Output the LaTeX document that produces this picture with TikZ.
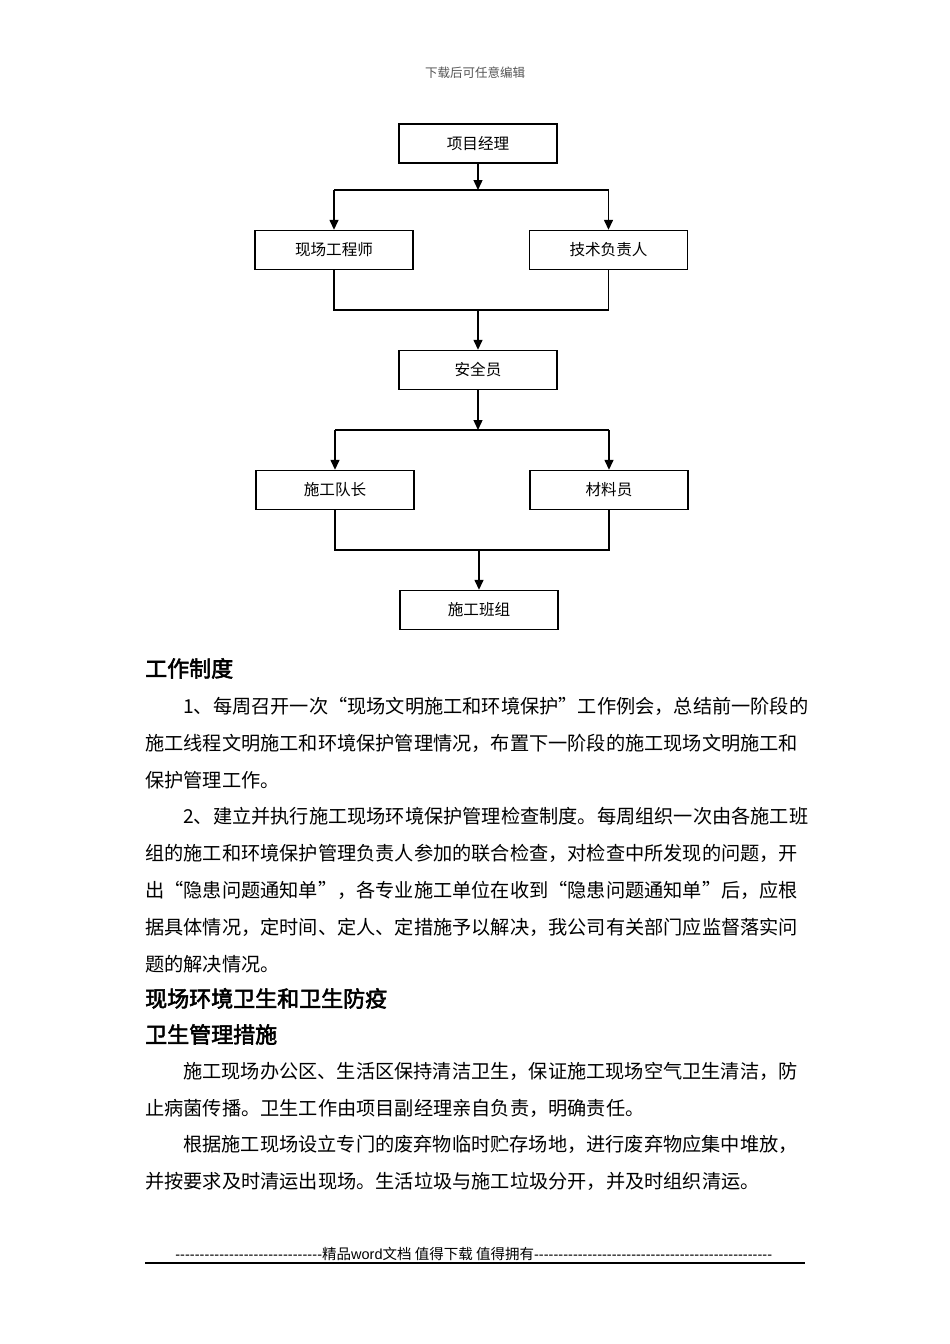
\documentclass[tikz,border=0pt]{standalone}
\usepackage{fontspec}
\setmainfont{Liberation Serif}
\newfontfamily\cjk{Noto Sans CJK SC}
\newfontfamily\cjkb{Noto Sans CJK SC}[FakeBold=2.5]
\newfontfamily\footfont{Liberation Sans}
\usetikzlibrary{arrows.meta}
\definecolor{hdrgray}{HTML}{555555}
\begin{document}
\begin{tikzpicture}[x=1pt,y=-1pt,
  box/.style={draw, line width=1.4pt, minimum width=158pt, minimum height=39pt, inner sep=0pt,
    font=\cjk\fontsize{15.6}{18}\selectfont},
  conn/.style={line width=1.4pt},
  arr/.style={conn, -{Triangle[length=10pt,width=9pt]}},
  bodyline/.style={anchor=west, inner sep=0pt, text height=0.88em, text depth=0.12em,
    font=\cjk\fontsize{19.2}{23}\selectfont},
  headline/.style={anchor=west, inner sep=0pt, text height=0.88em, text depth=0.12em,
    font=\cjkb\fontsize{22}{26}\selectfont}]
\useasboundingbox[fill=white] (0,0) rectangle (950,1344);

% header
\node[font=\cjk\fontsize{12.5}{15}\selectfont, text=hdrgray] (hdr) at (475,73) {下载后可任意编辑};

% org chart
\node[box] (pm)   at (478,143.5) {项目经理};
\node[box] (eng)  at (334,250)   {现场工程师};
\node[box] (tech) at (608.5,250) {技术负责人};
\node[box] (safe) at (478,370)   {安全员};
\node[box] (cap)  at (335,490)   {施工队长};
\node[box] (mat)  at (609,490)   {材料员};
\node[box] (team) at (479,610)   {施工班组};

\coordinate (j1) at (478,190);
\coordinate (j2) at (478,310);
\coordinate (j3) at (478,430);
\coordinate (j4) at (479,550);

\draw[arr] (pm.south) -- (j1);
\draw[conn] (j1 -| eng) -- (j1 -| tech);
\draw[arr] (j1 -| eng) -- (eng.north);
\draw[arr] (j1 -| tech) -- (tech.north);
\draw[conn] (eng.south) -- (eng |- j2) -- (tech |- j2) -- (tech.south);
\draw[arr] (j2) -- (safe.north);
\draw[arr] (safe.south) -- (j3);
\draw[conn] (j3 -| cap) -- (j3 -| mat);
\draw[arr] (j3 -| cap) -- (cap.north);
\draw[arr] (j3 -| mat) -- (mat.north);
\draw[conn] (cap.south) -- (cap |- j4) -- (mat |- j4) -- (mat.south);
\draw[arr] (j4) -- (team.north);

% text
\node[headline] (h1) at (145,673) {工作制度};
\node[bodyline] (p1a) at (183,710) {1、每周召开一次“现场文明施工和环境保护”工作例会，总结前一阶段的};
\node[bodyline] (p1b) at (145,747) {施工线程文明施工和环境保护管理情况，布置下一阶段的施工现场文明施工和};
\node[bodyline] (p1c) at (145,784) {保护管理工作。};
\node[bodyline] (p2a) at (183,820) {2、建立并执行施工现场环境保护管理检查制度。每周组织一次由各施工班};
\node[bodyline] (p2b) at (145,857) {组的施工和环境保护管理负责人参加的联合检查，对检查中所发现的问题，开};
\node[bodyline] (p2c) at (145,894) {出“隐患问题通知单”，各专业施工单位在收到“隐患问题通知单”后，应根};
\node[bodyline] (p2d) at (145,931) {据具体情况，定时间、定人、定措施予以解决，我公司有关部门应监督落实问};
\node[bodyline] (p2e) at (145,968) {题的解决情况。};
\node[headline] (h2) at (145,1003) {现场环境卫生和卫生防疫};
\node[headline] (h3) at (145,1039) {卫生管理措施};
\node[bodyline] (p3a) at (183,1075) {施工现场办公区、生活区保持清洁卫生，保证施工现场空气卫生清洁，防};
\node[bodyline] (p3b) at (145,1112) {止病菌传播。卫生工作由项目副经理亲自负责，明确责任。};
\node[bodyline] (p4a) at (183,1148) {根据施工现场设立专门的废弃物临时贮存场地，进行废弃物应集中堆放，};
\node[bodyline] (p4b) at (145,1185) {并按要求及时清运出现场。生活垃圾与施工垃圾分开，并及时组织清运。};

% footer
\node[anchor=west, inner sep=0pt, font=\footfont\fontsize{14.5}{17}\selectfont] (ftr) at (175,1254)
  {\hbox to 147pt{\xleaders\hbox{-}\hfill}{\cjk 精品}word{\cjk 文档 值得下载 值得拥有}\hbox to 238pt{\xleaders\hbox{-}\hfill}};
\coordinate (rl) at (145,1263);
\coordinate (rr) at (805,1263);
\draw[line width=1.4pt] (rl) -- (rr);
\end{tikzpicture}
\end{document}
